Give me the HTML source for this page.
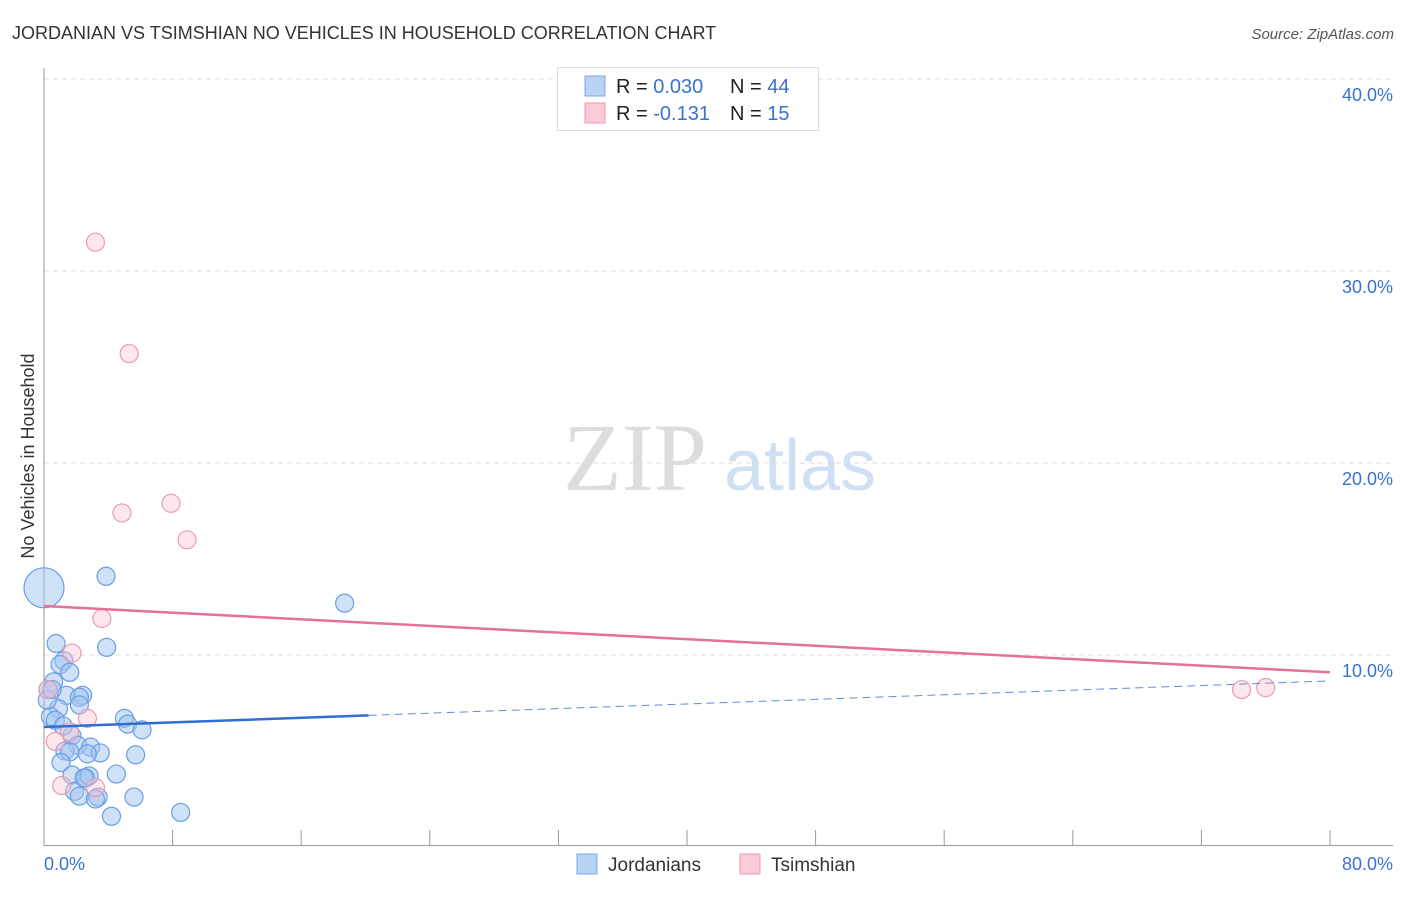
<!DOCTYPE html>
<html><head><meta charset="utf-8"><style>
body{margin:0;background:#fff;font-family:"Liberation Sans",sans-serif;}
</style></head><body>
<svg id="chart" width="1406" height="892" xmlns="http://www.w3.org/2000/svg" style="font-family:'Liberation Sans',sans-serif">
<text x="12" y="39" font-size="18" fill="#333">JORDANIAN VS TSIMSHIAN NO VEHICLES IN HOUSEHOLD CORRELATION CHART</text>
<text x="1394" y="39" font-size="15" fill="#555" font-style="italic" text-anchor="end">Source: ZipAtlas.com</text>
<text x="34" y="456" font-size="18" fill="#333" text-anchor="middle" transform="rotate(-90 34 456)">No Vehicles in Household</text>
<g><text x="635" y="490" font-size="96" fill="#ddd" font-family="Liberation Serif,serif" text-anchor="middle">ZIP</text><text x="800" y="490" font-size="72" fill="#cfe0f5" text-anchor="middle">atlas</text></g>
<g id="grid"></g>
<g id="axes"></g>
<g id="marks"></g>
<g>
<rect x="557.5" y="67.5" width="261" height="63" fill="#fff" stroke="#ddd"/>
<rect x="585" y="76" width="20" height="20" fill="#b8d3f5" stroke="#7aa7e6"/>
<rect x="585" y="103" width="20" height="20" fill="#fccbd8" stroke="#ee9ab3"/>
<text x="616" y="93" font-size="20" fill="#222">R = <tspan fill="#3a72d0">0.030</tspan><tspan x="730">N = </tspan><tspan fill="#3a72d0">44</tspan></text>
<text x="616" y="120" font-size="20" fill="#222">R = <tspan fill="#3a72d0"> -0.131</tspan><tspan x="730">N = </tspan><tspan fill="#3a72d0"> 15</tspan></text>
</g>
<g>
<rect x="577" y="854" width="20" height="20" fill="#b8d3f5" stroke="#7aa7e6"/>
<text x="608" y="871" font-size="19" fill="#333">Jordanians</text>
<rect x="740" y="854" width="20" height="20" fill="#fccbd8" stroke="#ee9ab3"/>
<text x="771" y="871" font-size="19" fill="#333">Tsimshian</text>
</g>
</svg>
<script>
const yTicks=[10,20,30,40];
const yTickLabels=["10.0%","20.0%","30.0%","40.0%"];
const xTicks=[0,8,16,24,32,40,48,56,64,72,80];
const blueX=[0,3.86,18.7,0.75,3.9,1.24,1.0,1.6,0.6,0.25,1.4,2.4,2.2,2.2,0.9,0.4,0.7,5.0,5.2,6.1,1.74,2.1,2.9,1.3,1.6,3.5,2.7,5.7,1.06,4.5,1.74,2.6,2.8,1.9,2.2,3.36,5.6,3.2,4.2,8.5,0.2,0.5,2.5,1.2];
const blueY=[13.5,14.1,12.7,10.6,10.4,9.7,9.5,9.1,8.6,8.2,7.9,7.9,7.8,7.4,7.2,6.8,6.6,6.7,6.4,6.1,5.8,5.3,5.2,5.0,4.95,4.9,4.85,4.8,4.4,3.8,3.75,3.6,3.7,2.9,2.65,2.6,2.6,2.5,1.6,1.8,7.65,8.2,3.6,6.3];
const pinkX=[3.2,5.3,4.85,7.9,8.9,3.6,1.74,2.7,1.6,0.7,1.1,3.2,74.5,76.0,0.25];
const pinkY=[31.5,25.7,17.4,17.9,16.0,11.9,10.1,6.7,6.0,5.5,3.2,3.1,8.2,8.3,8.2];
const blueTrend=[6.25,8.65], blueSolidEnd=20.2;
const pinkTrend=[12.55,9.1];
const NS="http://www.w3.org/2000/svg";
const X=v=>44+v/80*1286, Y=v=>847-v*19.2;
function mk(p,t,a){const e=document.createElementNS(NS,t);for(const k in a)e.setAttribute(k,a[k]);p.appendChild(e);return e;}
const grid=document.getElementById('grid'),axes=document.getElementById('axes'),marks=document.getElementById('marks');
yTicks.forEach((t,i)=>{
 const l=mk(grid,'line',{x1:44,x2:1393,y1:Y(t),y2:Y(t),stroke:'#ddd','stroke-dasharray':'5,4'});
 
 const tx=mk(axes,'text',{x:1393,y:Y(t)+22,'font-size':18,fill:'#3a72d0','text-anchor':'end'});
 tx.textContent=yTickLabels[i];
 
});
mk(axes,'line',{x1:44,x2:44,y1:68,y2:846,stroke:'#999'});
mk(axes,'line',{x1:44,x2:1393,y1:845.5,y2:845.5,stroke:'#999'});
xTicks.forEach(t=>{const l=mk(axes,'line',{x1:X(t),x2:X(t),y1:830,y2:846,stroke:'#999'});});
let a=mk(axes,'text',{x:44,y:870,'font-size':18,fill:'#3a72d0'});a.textContent='0.0%';
a=mk(axes,'text',{x:1393,y:870,'font-size':18,fill:'#3a72d0','text-anchor':'end'});a.textContent='80.0%';
blueX.forEach((x,i)=>{const c=mk(marks,'circle',{cx:X(x),cy:Y(blueY[i]),r:i===0?20:9,fill:'rgba(160,196,240,0.5)',stroke:'#6a9de3','stroke-width':1.2});
 });
pinkX.forEach((x,i)=>{const c=mk(marks,'circle',{cx:X(x),cy:Y(pinkY[i]),r:9,fill:'rgba(250,195,210,0.4)',stroke:'#eb9ab2','stroke-width':1.2});
 });
const by=v=>blueTrend[0]+(blueTrend[1]-blueTrend[0])*v/80;
let t=mk(marks,'line',{x1:X(0),y1:Y(by(0)),x2:X(blueSolidEnd),y2:Y(by(blueSolidEnd)),stroke:'#2f6fd3','stroke-width':2.5});

t=mk(marks,'line',{x1:X(blueSolidEnd),y1:Y(by(blueSolidEnd)),x2:X(80),y2:Y(by(80)),stroke:'#5b8fd8','stroke-width':1,'stroke-dasharray':'8,5'});

t=mk(marks,'line',{x1:X(0),y1:Y(pinkTrend[0]),x2:X(80),y2:Y(pinkTrend[1]),stroke:'#e5709a','stroke-width':2.5});

</script>
</body></html>
